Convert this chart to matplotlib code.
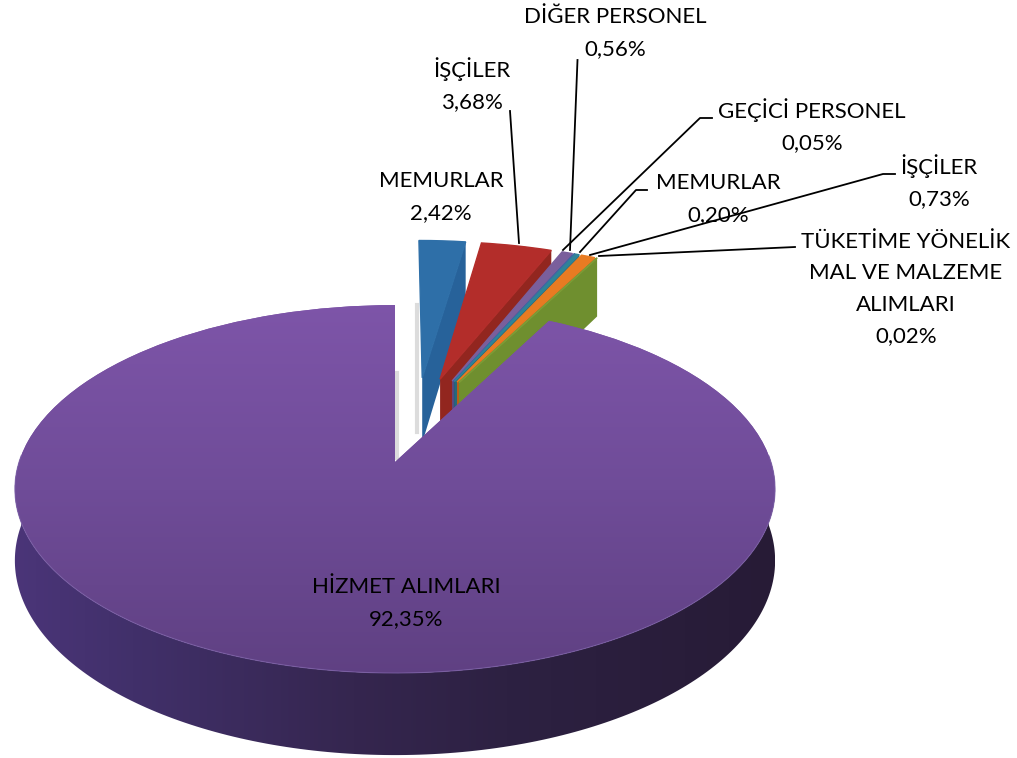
import matplotlib
matplotlib.use("Agg")
import matplotlib.pyplot as plt
import numpy as np
from matplotlib.colors import LinearSegmentedColormap
from matplotlib.patches import Polygon
from matplotlib.transforms import Transform

# one chart, values as printed on the labels
categories = ["MEMURLAR", "İŞÇİLER", "DİĞER PERSONEL", "GEÇİCİ PERSONEL", "MEMURLAR", "İŞÇİLER",
              "TÜKETİME YÖNELİK\nMAL VE MALZEME\nALIMLARI", "HİZMET ALIMLARI"]
values = [2.42, 3.68, 0.56, 0.05, 0.20, 0.73, 0.02, 92.35]
value_labels = ["2,42%", "3,68%", "0,56%", "0,05%", "0,20%", "0,73%", "0,02%", "92,35%"]
explode = [0.27, 0.27, 0.27, 0.27, 0.27, 0.27, 0.27, 0.24]
top_colors = ["#2e6fa8", "#b32d2a", "#7a5f9c", "#3d66a6", "#2f8398", "#e87b22", "#7d9a35", "#7a52a3"]
wall_colors = ["#27629a", "#92261f", "#5f4a80", "#2f5085", "#246a7a", "#b85f18", "#6f8f2f", "#3a2a55"]
label_pos = [(441, 197), (472, 85), (615, 33), (812, 126), (718, 199), (939, 182), (906, 289), (406, 603)]

# fake 3d: pie is drawn flat and pushed through this projection
cx, cy = 395, 462
sx, sy = 376, 180
k = 0.147
depth = 70


def persp(xy, z=0.0):
    xy = np.asarray(xy, dtype=float)
    w = 1 + k * xy[:, 1]
    return np.column_stack([cx + sx * xy[:, 0] / w, cy - sy * xy[:, 1] / w + depth * z / w])


class Persp(Transform):
    input_dims = 2
    output_dims = 2

    def transform_non_affine(self, values):
        return persp(values)


fig = plt.figure(figsize=(10.17, 7.58), dpi=100)
ax = fig.add_axes([0, 0, 1, 1])
plt.rcParams["font.family"] = ["Lato", "DejaVu Sans"]

# purple slice gets its tip on the projection origin
frac = np.array(values) / sum(values)
bis = np.deg2rad(90 - 360 * (frac[:-1].sum() + frac[-1] / 2))
center = (-explode[-1] * np.cos(bis), -explode[-1] * np.sin(bis))

wedges, _ = ax.pie(values, explode=explode, colors=top_colors, startangle=90, counterclock=False,
                   center=center, radius=1)

z = 2
for wedge, wall, col in zip(wedges[:-1], wall_colors[:-1], top_colors[:-1]):
    wedge.set_transform(Persp() + ax.transData)
    wedge.set_zorder(z + 1)
    # small edge so the thin slices don't vanish, the original is soft here
    wedge.set_edgecolor(col)
    wedge.set_linewidth(1)
    c = np.array(wedge.center)
    # cut face on the clockwise side of the slice is the one we can see
    a = np.deg2rad(wedge.theta1)
    edge = np.array([c, c + [np.cos(a), np.sin(a)]])
    pts = np.vstack([persp(edge), persp(edge[::-1], 1)])
    ax.fill(pts[:, 0], pts[:, 1], color=wall, lw=0, zorder=z)
    z += 2

main = wedges[-1]
main.set_transform(Persp() + ax.transData)
main.set_zorder(30)
c = np.array(main.center)

# outer wall of the big slice
t = np.deg2rad(np.linspace(178, 362, 200))
arc = c + np.column_stack([np.cos(t), np.sin(t)])
wall_pts = np.vstack([persp(arc), persp(arc[::-1], 1)])
wall_patch = Polygon(wall_pts, closed=True, transform=ax.transData, fc="none", ec="none")
ax.add_patch(wall_patch)
wall_cmap = LinearSegmentedColormap.from_list("wall", [(0, "#4b3579"), (0.16, "#41306a"), (0.45, "#35264f"),
                                                       (0.65, "#2d2142"), (1, "#271b36")])
im = ax.imshow(np.linspace(0, 1, 256)[None, :], cmap=wall_cmap, extent=(10, 775, 758, 0), aspect="auto", zorder=29)
im.set_clip_path(wall_patch)

# top of the big slice, lighter at the back
face_cmap = LinearSegmentedColormap.from_list("face", ["#7e55a9", "#6f4c98", "#5f4082"])
im2 = ax.imshow(np.linspace(0, 1, 256)[:, None], cmap=face_cmap, extent=(0, 1017, 680, 300), aspect="auto", zorder=31)
im2.set_clip_path(main)

# light rim along the front edge
rim = persp(arc)
ax.plot(rim[:, 0], rim[:, 1], color="#7d62a8", lw=0.8, alpha=0.7, zorder=32)

# faint shadows in the gap
ax.plot([397, 397], [373, 458], color="#dcdcdc", lw=3, zorder=1)
ax.plot([417, 417], [305, 432], color="#dcdcdc", lw=3, zorder=1)

for name, val, (x, y) in zip(categories, value_labels, label_pos):
    ax.text(x, y, name + "\n" + val, ha="center", va="center", fontsize=16, color="black",
            linespacing=1.7, zorder=40)

# leader lines
leaders = [
    ([577.5, 570], [60, 250]),
    ([510, 519], [111, 243]),
    ([712, 700, 563], [118, 118, 250]),
    ([647, 636, 580], [190, 190, 252]),
    ([895, 883, 590], [174, 174, 255]),
    ([795, 599], [247, 256]),
]
for lx, ly in leaders:
    ax.plot(lx, ly, color="black", lw=1.3, zorder=41)

ax.set_xlim(0, 1017)
ax.set_ylim(758, 0)
ax.set_aspect("auto")
ax.axis("off")
fig.savefig("out.png", dpi=100)
